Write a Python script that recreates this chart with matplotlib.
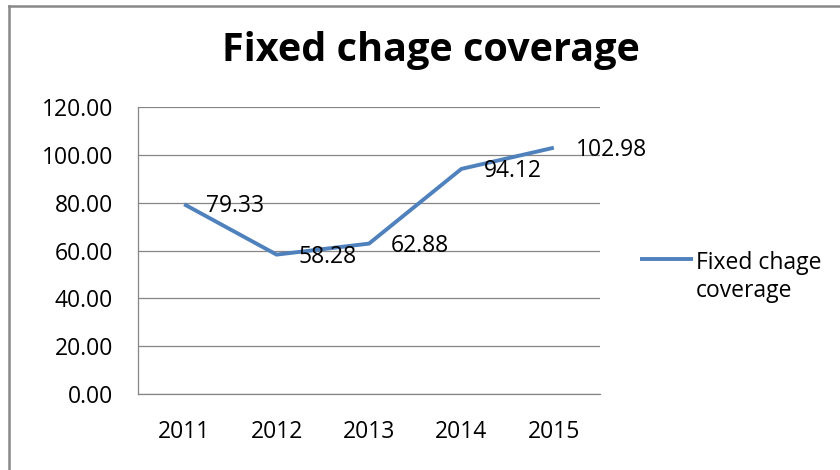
import matplotlib
matplotlib.use("Agg")
import matplotlib.pyplot as plt
from matplotlib.lines import Line2D

years = ["2011", "2012", "2013", "2014", "2015"]
values = [79.33, 58.28, 62.88, 94.12, 102.98]
yticks = [0, 20, 40, 60, 80, 100, 120]
title = "Fixed chage coverage"
series_label = "Fixed chage\ncoverage"

plt.rcParams['font.family'] = ['Open Sans', 'DejaVu Sans']

fig = plt.figure(figsize=(8.4, 4.7), dpi=100)
ax = fig.add_axes([138/840, 1-394/470, 462/840, 287/470])

x = list(range(len(years)))
ax.plot(x, values, color="#4F81BD", lw=2.8, solid_capstyle="butt",
        solid_joinstyle="miter", label=series_label, zorder=3)

for xi, v in zip(x, values):
    ax.annotate(f"{v:.2f}", (xi, v), xytext=(22, -2), textcoords="offset pixels",
                ha="left", va="center", fontsize=16.5, color="#000000", zorder=4)

ax.set_xlim(-0.5, len(years) - 0.5)
ax.set_ylim(0, 120)
ax.set_yticks(yticks)
ax.set_yticklabels([f"{t:.2f}" for t in yticks])
ax.set_xticks(x)
ax.set_xticklabels(years)
ax.tick_params(axis="y", length=0, pad=18, labelsize=16.5, labelcolor="#000000")
ax.tick_params(axis="x", length=0, pad=19, labelsize=16.5, labelcolor="#000000")
ax.grid(axis="y", color="#868686", lw=0.9)
ax.set_axisbelow(True)
for s in ["top", "right"]:
    ax.spines[s].set_visible(False)
for s in ["left", "bottom"]:
    ax.spines[s].set_color("#868686")
    ax.spines[s].set_linewidth(0.9)

fig.text(431/840, 1-50/470, title, ha="center", va="center",
         fontsize=28.5, fontweight="bold", color="#000000")

leg = ax.legend(loc="upper left", bbox_to_anchor=(640/840, 1-251/470),
                bbox_transform=fig.transFigure, frameon=False, fontsize=16.5,
                handlelength=2.3, handletextpad=0.15, borderaxespad=0,
                borderpad=0)
try:
    for col in leg._legend_handle_box.get_children():
        for item in col.get_children():
            item.align = "top"
except Exception:
    pass

# outer chart border (left and top visible)
fig.add_artist(Line2D([9/840, 9/840], [0, 1-6/470], transform=fig.transFigure,
                      color="#888888", lw=1.8))
fig.add_artist(Line2D([9/840, 1], [1-6/470, 1-6/470], transform=fig.transFigure,
                      color="#888888", lw=1.8))

fig.savefig("out.png", dpi=100, facecolor="white")
